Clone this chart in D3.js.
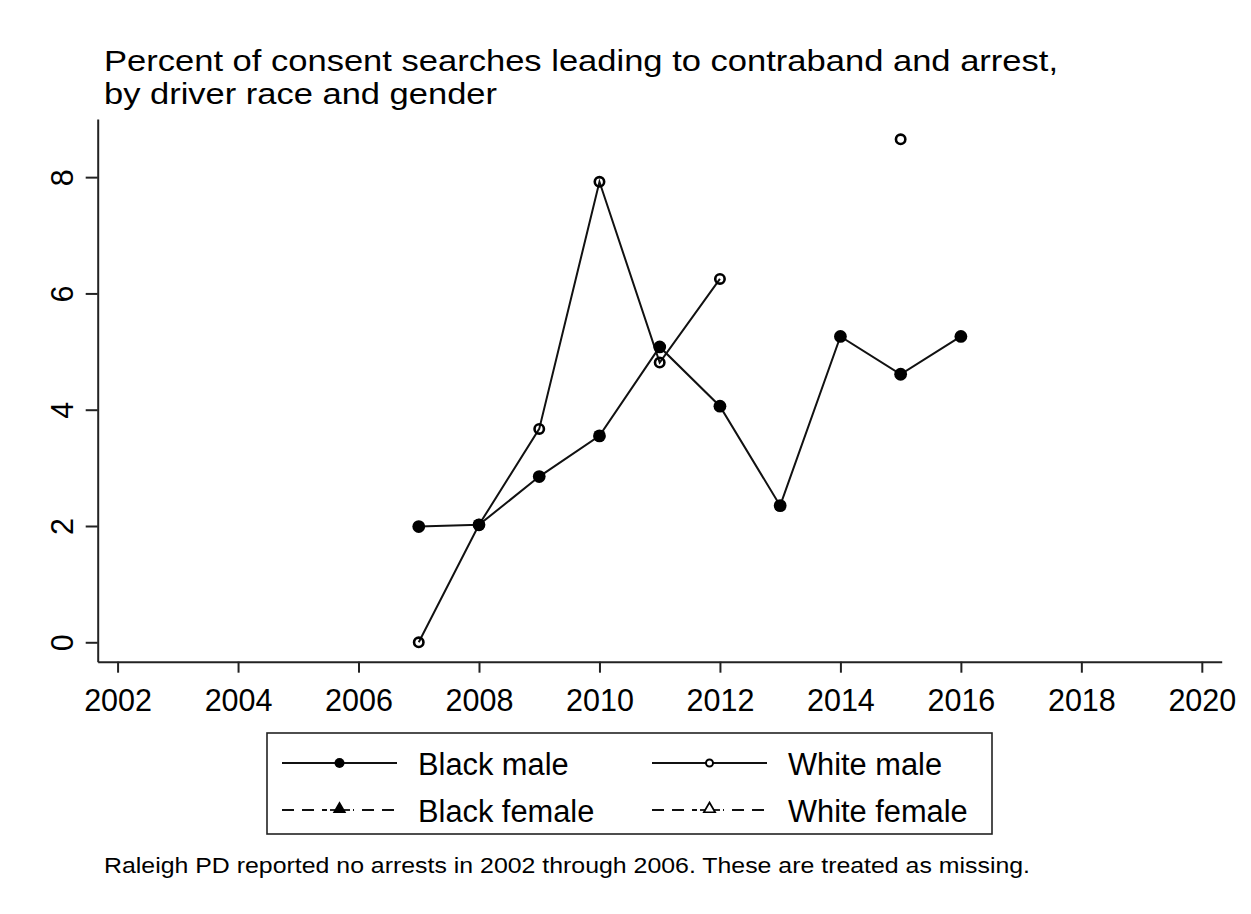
<!DOCTYPE html>
<html>
<head>
<meta charset="utf-8">
<script src="https://cdn.jsdelivr.net/npm/d3@7"></script>
<style>
  html, body { margin: 0; padding: 0; background: #fff; }
  text { font-family: "Liberation Sans", Arial, sans-serif; fill: #000; }
</style>
</head>
<body>
<svg id="chart" width="1251" height="914"></svg>
<script>
// ---- data ----
const years = [2007, 2008, 2009, 2010, 2011, 2012, 2013, 2014, 2015, 2016];
const blackMale   = [1.99, 2.02, 2.85, 3.55, 5.08, 4.06, 2.35, 5.26, 4.61, 5.26];
const whiteMale   = [0.00, 2.02, 3.67, 7.92, 4.81, 6.25, null, null, 8.65, null];
const blackFemale = [null, null, null, null, null, null, null, null, null, null];
const whiteFemale = [null, null, null, null, null, null, null, null, null, null];
const xTicks = [2002, 2004, 2006, 2008, 2010, 2012, 2014, 2016, 2018, 2020];
const yTicks = [0, 2, 4, 6, 8];
const titleLines = ["Percent of consent searches leading to contraband and arrest,", "by driver race and gender"];
const note = "Raleigh PD reported no arrests in 2002 through 2006. These are treated as missing.";
const legendItems = [
  {label: "Black male", dash: null, marker: "circleFilled"},
  {label: "White male", dash: null, marker: "circleHollow"},
  {label: "Black female", dash: "12,7", marker: "triFilled"},
  {label: "White female", dash: "12,7", marker: "triHollow"}
];

const svg = d3.select("#chart");
svg.append("rect").attr("width", 1251).attr("height", 914).attr("fill", "#fff");

const x = d3.scaleLinear().domain([2001.67, 2020.33]).range([97.7, 1221.7]);
const y = d3.scaleLinear().domain([-0.334, 9.0]).range([661.7, 119]);
const axisColor = "#222";

// title (reference type is slightly wide: stretch to its measured widths)
const titleWidths = [954, 393];
svg.selectAll("text.title").data(titleLines).enter().append("text")
  .attr("class", "title")
  .attr("x", 104).attr("y", (d, i) => 70.5 + i * 33)
  .attr("font-size", 29.5)
  .attr("textLength", (d, i) => titleWidths[i]).attr("lengthAdjust", "spacingAndGlyphs")
  .text(d => d);

// x axis
const gx = svg.append("g").attr("transform", `translate(0,${y.range()[0]})`)
  .call(d3.axisBottom(x).tickValues(xTicks).tickFormat(d3.format("d")).tickSize(11).tickSizeOuter(0));
gx.select(".domain").attr("stroke", axisColor).attr("stroke-width", 2);
gx.selectAll(".tick line").attr("stroke", axisColor).attr("stroke-width", 2);
gx.selectAll(".tick text").attr("dy", null).attr("y", 49)
  .attr("font-size", 30.5).attr("font-family", "Liberation Sans, Arial, sans-serif").attr("fill", "#000");

// y axis
const gy = svg.append("g").attr("transform", `translate(${x.range()[0]},0)`)
  .call(d3.axisLeft(y).tickValues(yTicks).tickSize(12).tickSizeOuter(0));
gy.select(".domain").attr("stroke", axisColor).attr("stroke-width", 2);
gy.selectAll(".tick line").attr("stroke", axisColor).attr("stroke-width", 2);
gy.selectAll(".tick text").attr("x", null).attr("dy", null)
  .attr("text-anchor", "middle")
  .attr("transform", "translate(-25,0) rotate(-90)")
  .attr("font-size", 30.5).attr("font-family", "Liberation Sans, Arial, sans-serif").attr("fill", "#000");

// series
const line = d3.line().defined(d => d[1] != null).x(d => x(d[0])).y(d => y(d[1]));
function series(vals, dash) {
  const pts = years.map((yr, i) => [yr, vals[i]]);
  svg.append("path").datum(pts).attr("d", line)
    .attr("fill", "none").attr("stroke", "#111").attr("stroke-width", 2)
    .attr("stroke-dasharray", dash);
  return pts.filter(d => d[1] != null);
}
const tri = d3.symbol().type(d3.symbolTriangle);

const wm = series(whiteMale, null);
svg.selectAll("circle.wm").data(wm).enter().append("circle")
  .attr("cx", d => x(d[0])).attr("cy", d => y(d[1])).attr("r", 4.7)
  .attr("fill", "none").attr("stroke", "#000").attr("stroke-width", 2.6);

const bm = series(blackMale, null);
svg.selectAll("circle.bm").data(bm).enter().append("circle")
  .attr("cx", d => x(d[0])).attr("cy", d => y(d[1])).attr("r", 6.4)
  .attr("fill", "#000");

const bf = series(blackFemale, "12,7");
svg.selectAll("path.bf").data(bf).enter().append("path")
  .attr("d", tri.size(90)).attr("transform", d => `translate(${x(d[0])},${y(d[1])})`).attr("fill", "#000");
const wf = series(whiteFemale, "12,7");
svg.selectAll("path.wf").data(wf).enter().append("path")
  .attr("d", tri.size(60)).attr("transform", d => `translate(${x(d[0])},${y(d[1])})`)
  .attr("fill", "none").attr("stroke", "#000").attr("stroke-width", 1.8);

// legend
const leg = svg.append("g");
leg.append("rect").attr("x", 267).attr("y", 733).attr("width", 725).attr("height", 101)
  .attr("fill", "#fff").attr("stroke", axisColor).attr("stroke-width", 1.6);
const colX = [282, 652];
const rowY = [763, 810];
legendItems.forEach((it, i) => {
  const cx0 = colX[i % 2], cy0 = rowY[Math.floor(i / 2)];
  const g = leg.append("g").attr("transform", `translate(${cx0},${cy0})`);
  if (it.dash) {
    g.append("line").attr("x1", 0).attr("x2", 115).attr("y1", 0).attr("y2", 0)
      .attr("stroke", "#111").attr("stroke-width", 1.8).attr("stroke-dasharray", "12,8");
    g.append("rect").attr("x", 45).attr("y", -8).attr("width", 26).attr("height", 16).attr("fill", "#fff");
    g.append("line").attr("x1", 48).attr("x2", 68).attr("y1", 0).attr("y2", 0)
      .attr("stroke", "#111").attr("stroke-width", 1.8);
  } else {
    g.append("line").attr("x1", 0).attr("x2", 115).attr("y1", 0).attr("y2", 0)
      .attr("stroke", "#111").attr("stroke-width", 1.8);
  }
  const mx = 57.5;
  if (it.marker === "circleFilled") {
    g.append("circle").attr("cx", mx).attr("cy", 0).attr("r", 5).attr("fill", "#000");
  } else if (it.marker === "circleHollow") {
    g.append("circle").attr("cx", mx).attr("cy", 0).attr("r", 3.5).attr("fill", "#fff")
      .attr("stroke", "#000").attr("stroke-width", 2);
  } else if (it.marker === "triFilled") {
    g.append("path").attr("d", d3.symbol().type(d3.symbolTriangle).size(80)())
      .attr("transform", `translate(${mx},-1)`).attr("fill", "#000");
  } else {
    g.append("path").attr("d", d3.symbol().type(d3.symbolTriangle).size(55)())
      .attr("transform", `translate(${mx},-1)`).attr("fill", "#fff")
      .attr("stroke", "#000").attr("stroke-width", 1.7);
  }
  g.append("text").attr("x", 136).attr("y", 12).attr("font-size", 30.8).text(it.label);
});

// note
svg.append("text").attr("x", 104).attr("y", 873).attr("font-size", 22.5)
  .attr("textLength", 926).attr("lengthAdjust", "spacingAndGlyphs").text(note);
</script>
</body>
</html>
